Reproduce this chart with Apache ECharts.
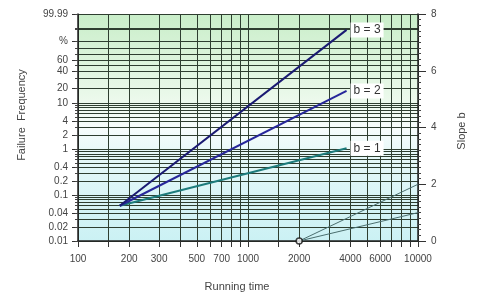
<!DOCTYPE html>
<html><head><meta charset="utf-8">
<script src="https://cdn.jsdelivr.net/npm/echarts@6/dist/echarts.min.js"></script>
<style>html,body{margin:0;padding:0;background:#fff}#c{width:480px;height:305px}</style>
</head><body><div id="c"></div>
<script>
// Running time (x, log scale)
const xLabelValues = [100,200,300,500,700,1000,2000,4000,6000,10000];
const xGridValues = [100,150,200,300,400,500,600,700,800,900,1000,1500,2000,3000,4000,5000,6000,7000,8000,9000,10000];
// Failure frequency % (y, Weibull scale)
const yLabelValues = [0.01,0.02,0.04,0.1,0.2,0.4,1,2,4,10,20,40,60,90,99.99];
const yLabelTexts  = ['0.01','0.02','0.04','0.1','0.2','0.4','1','2','4','10','20','40','60','%','99.99'];
const yGridValues = [0.01,0.02,0.03,0.04,0.05,0.06,0.07,0.08,0.09,0.1,0.2,0.3,0.4,0.5,0.6,0.7,0.8,0.9,1,2,3,4,5,6,7,8,9,10,20,30,40,50,60,70,80,90,98.7,99,99.99];
// Slope axis
const slopeMin = 0, slopeMax = 8, slopeStep = 2;
// Lines [running time, failure %]
const lineB3 = [[176,0.059],[3800,98.4]];
const lineB2 = [[176,0.059],[3800,17.4]];
const lineB1 = [[176,0.059],[3800,1.06]];
const lineNames = ['b = 3','b = 2','b = 1'];
// Slope pole lines [running time, slope b]
const poleB2 = [[2000,0],[10000,2]];
const poleB1 = [[2000,0],[10000,1]];
const polePoint = [[2000,0]];

const lg = t => Math.log10(t);
const w = f => Math.log(-Math.log(1 - f/100));
const yMin = w(0.01), yMax = w(99.99);
const font = 'Liberation Sans, Arial, sans-serif';

const weib = arr => arr.map(p => [lg(p[0]), w(p[1])]);
const endLabel = name => ({show:true, formatter:name, distance:4,
  backgroundColor:'#ffffff', padding:[2,3,1,3], fontSize:12, color:'#333', fontFamily:font});

const chart = echarts.init(document.getElementById('c'), null, {renderer:'canvas'});
chart.setOption({
  animation:false,
  grid:{left:78, right:62, top:14, bottom:64, show:true, borderWidth:0, outerBoundsMode:'none',
    backgroundColor:new echarts.graphic.LinearGradient(0,0,0,1,[
      {offset:0,color:'#c9eec9'},{offset:0.38,color:'#ecf9ec'},{offset:0.5,color:'#f7fdfc'},
      {offset:0.62,color:'#e6f8f8'},{offset:1,color:'#cbf1f4'}])},
  xAxis:{type:'value', min:lg(100), max:lg(10000),
    axisLine:{show:true, onZero:false, lineStyle:{color:'#222', width:1.5}},
    axisTick:{show:true, customValues:xGridValues.map(lg), length:6, lineStyle:{color:'#333'}},
    axisLabel:{customValues:xLabelValues.map(lg), margin:13, fontSize:10, color:'#444', fontFamily:font,
      formatter:v => String(Math.round(Math.pow(10, v)))},
    splitLine:{show:true, lineStyle:{color:'#2e3e30', width:1}}
  },
  yAxis:[
    {type:'value', min:yMin, max:yMax, position:'left',
      axisLine:{show:true, lineStyle:{color:'#222', width:1.5}},
      axisTick:{show:true, customValues:yLabelValues.map(w), length:6, lineStyle:{color:'#333'}},
      axisLabel:{customValues:yLabelValues.map(w), margin:10, fontSize:10, color:'#444', fontFamily:font,
        formatter:v => { let bi=0, bd=1e9; yLabelValues.forEach((f,i)=>{const d=Math.abs(w(f)-v); if(d<bd){bd=d;bi=i;}}); return yLabelTexts[bi]; }},
      splitLine:{show:false}
    },
    {type:'value', min:slopeMin, max:slopeMax, interval:slopeStep, position:'right',
      axisLine:{show:true, lineStyle:{color:'#222', width:1.5}},
      axisTick:{show:true, length:8, lineStyle:{color:'#333'}},
      minorTick:{show:true, splitNumber:10, length:3, lineStyle:{color:'#444'}},
      axisLabel:{margin:13, fontSize:10, color:'#444', fontFamily:font},
      splitLine:{show:false}
    },
    {type:'value', min:yMin, max:yMax, position:'left',
      axisLine:{show:false},
      axisTick:{show:true, customValues:yGridValues.map(w), length:3, lineStyle:{color:'#444'}},
      axisLabel:{show:false},
      splitLine:{show:true, lineStyle:{color:'#2e3e30', width:1}}
    }
  ],
  graphic:[
    {type:'text', x:22, y:115, rotation:Math.PI/2, style:{text:'Failure  Frequency', font:'11px '+font, fill:'#444', align:'center', verticalAlign:'middle'}},
    {type:'text', x:237, y:287, style:{text:'Running time', font:'11px '+font, fill:'#444', align:'center', verticalAlign:'middle'}},
    {type:'text', x:462, y:131, rotation:Math.PI/2, style:{text:'Slope b', font:'11px '+font, fill:'#444', align:'center', verticalAlign:'middle'}}
  ],
  series:[
    {type:'line', xAxisIndex:0, yAxisIndex:1, data:poleB2.map(p=>[lg(p[0]),p[1]]), symbol:'none', lineStyle:{color:'#4a6e6e', width:1}, z:3},
    {type:'line', xAxisIndex:0, yAxisIndex:1, data:poleB1.map(p=>[lg(p[0]),p[1]]), symbol:'none', lineStyle:{color:'#4a6e6e', width:1}, z:3},
    {type:'line', yAxisIndex:0, data:weib(lineB1), symbol:'none', lineStyle:{color:'#1d7b7b', width:2}, endLabel:endLabel(lineNames[2]), z:4},
    {type:'line', yAxisIndex:0, data:weib(lineB2), symbol:'none', lineStyle:{color:'#27279a', width:2}, endLabel:endLabel(lineNames[1]), z:4},
    {type:'line', yAxisIndex:0, data:weib(lineB3), symbol:'none', lineStyle:{color:'#1a1a72', width:2}, endLabel:endLabel(lineNames[0]), z:4},
    {type:'scatter', xAxisIndex:0, yAxisIndex:1, data:polePoint.map(p=>[lg(p[0]),p[1]]), symbol:'circle', symbolSize:6,
      itemStyle:{color:'#ffffff', borderColor:'#111', borderWidth:1.5}, z:10, clip:false}
  ]
});
</script></body></html>
